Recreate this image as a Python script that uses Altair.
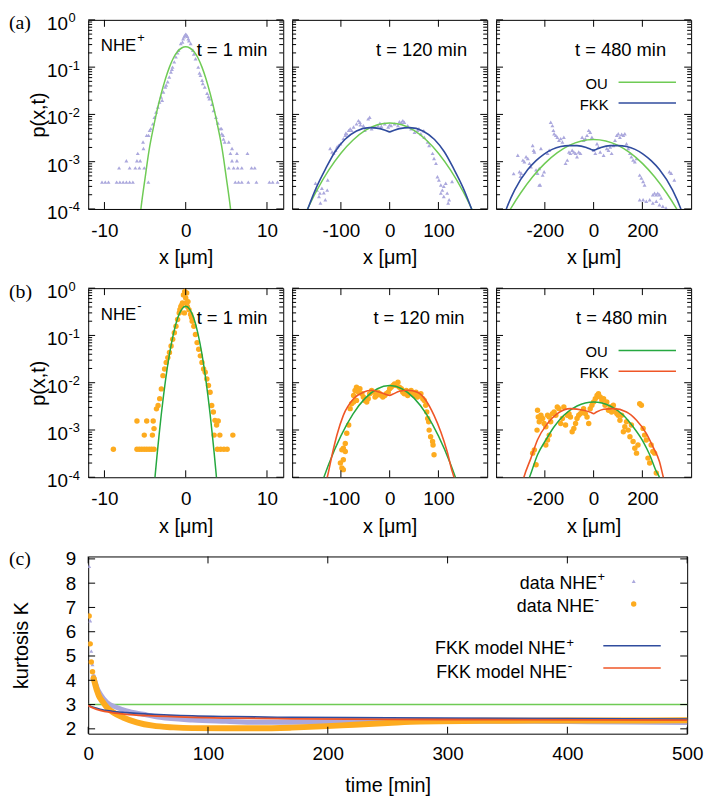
import altair as alt
import pandas as pd

FONT = "Liberation Sans"
SERIF = "Liberation Serif"

LAV = "#aba8dd"
ORG = "#fdab1f"
GRN_L = "#6fcb55"
GRN_D = "#25a840"
BLU = "#304c9e"
RED = "#ef5627"

W, H = 197, 191
WC, HC = 605, 179

# ---------------- ticks ----------------
Y_MAJOR = [1e-4, 1e-3, 1e-2, 1e-1, 1.0]
Y_MINOR = [m * 10.0 ** k for k in (-4, -3, -2, -1) for m in range(2, 10)]
Y_LAB_V = [1.0, 1e-1, 1e-2, 1e-3, 1e-4]
Y_LAB_E = ["0", "-1", "-2", "-3", "-4"]
XT_1 = [-10, 0, 10]
XT_120 = [-100, 0, 100]
XT_480 = [-200, 0, 200]
C_XT = [0, 100, 200, 300, 400, 500]
C_YT = [2, 3, 4, 5, 6, 7, 8, 9]

# ---------------- (a1) NHE+ , t = 1 min ----------------
A1_BODY_X = [-4.57, -4.44, -4.04, -3.84, -3.64, -3.43, -3.23, -3.03, -2.9, -2.75, -2.51, -2.4, -2.22, -2.02,
             -1.82, -1.7, -1.62, -1.41, -1.21, -1.0, -0.89, -0.61, -0.4, -0.32, -0.2, -0.1, 0.0, 0.1, 0.2,
             0.32, 0.4, 0.61, 0.89, 1.0, 1.21, 1.54, 1.7, 1.82, 2.02, 2.1, 2.34, 2.63, 2.8, 2.91, 3.23,
             3.43, 3.72, 3.96, 4.24, 4.44, 4.65]
A1_BODY_P = [3.6e-3, 4.6e-3, 6.3e-3, 8.7e-3, 1.12e-2, 1.44e-2, 1.82e-2, 2.34e-2, 2.0e-2, 2.97e-2, 3.8e-2,
             4.2e-2, 4.9e-2, 6.2e-2, 7.9e-2, 9.0e-2, 0.10, 0.129, 0.165, 0.20, 0.228, 0.315, 0.34, 0.40,
             0.44, 0.47, 0.50, 0.48, 0.45, 0.40, 0.36, 0.315, 0.228, 0.19, 0.151, 0.10, 0.075, 0.067,
             0.053, 0.045, 0.038, 0.028, 0.024, 0.0215, 0.0163, 0.0121, 0.0087, 0.0066, 0.0050, 3.9e-3,
             3.0e-3]
A1_TAIL_LEVELS = [3.7e-4, 7.4e-4, 1.05e-3, 1.5e-3, 1.9e-3, 2.6e-3, 3.6e-3, 5.0e-3]
A1_TAIL_ROWS = [
    [-10.3, -9.9, -9.5, -8.5, -8.1, -7.7, -7.3, -6.9, -6.5, -4.6, 6.1, 6.5, 6.9, 7.7, 8.7, 10.3, 10.7, 11.3],
    [-8.2, -6.9, -6.2, -5.7, -5.1, 5.3, 5.9, 6.4, 6.9, 8.1, 8.5],
    [-7.3, -6.0, -5.6, 5.7, 6.3],
    [-5.9, 5.5, 6.3, 7.6],
    [-5.2, 5.7],
    [-5.25, 4.8, 5.3],
    [-4.8, 4.6],
    [-4.3, 4.4],
]
A1_OU_X = [-5.8, -5.5, -5.0, -4.5, -4.0, -3.5, -3.0, -2.5, -2.0, -1.5, -1.0, -0.5, 0.0, 0.5, 1.0, 1.5, 2.0,
           2.5, 3.0, 3.5, 4.0, 4.5, 5.0, 5.5, 5.8]
A1_OU_P = [3.5e-5, 1.05e-4, 4.5e-4, 1.78e-3, 5.0e-3, 0.0126, 0.028, 0.056, 0.100, 0.158, 0.214, 0.254, 0.269,
           0.254, 0.214, 0.158, 0.100, 0.056, 0.028, 0.0126, 5.0e-3, 1.78e-3, 4.5e-4, 1.05e-4, 3.5e-5]

# ---------------- (a2) NHE+ , t = 120 min ----------------
A2_X = [-152, -149, -145, -142, -143, -139, -135, -128, -132, -127, -122, -118, -115, -111, -108, -105, -101,
        -95, -91, -88, -84, -81, -78, -74, -68, -64, -61, -54, -51, -44, -41, -37, -30, -24, -17, -10, -3, 3,
        10, 17, 24, 27, 30, 37, 44, 51, 57, 64, 71, 78, 81, 88, 91, 95, 98, 101, 105, 108, 111, 115, 118,
        122, 128, 105, 111, 120, -60, -20, 0, 20, 60, -90, 70]
A2_P = [3.5e-4, 2.5e-4, 1.84e-4, 1.34e-4, 2.16e-4, 2.75e-4, 2.2e-4, 2.5e-4, 1.57e-4, 4.1e-4, 1.9e-3, 1.6e-3,
        1.5e-3, 1.75e-3, 2.05e-3, 2.2e-3, 2.4e-3, 3.07e-3, 3.6e-3, 3.9e-3, 4.6e-3, 4.97e-3, 4.6e-3, 5.4e-3,
        6.3e-3, 7.4e-3, 6.85e-3, 5.8e-3, 4.6e-3, 8.05e-3, 8.7e-3, 4.97e-3, 5.4e-3, 5.8e-3, 5.6e-3, 6.3e-3,
        5.4e-3, 5.8e-3, 6.3e-3, 5.8e-3, 6.85e-3, 7.4e-3, 6.85e-3, 5.8e-3, 4.97e-3, 4.2e-3, 4.6e-3, 3.9e-3,
        3.3e-3, 2.6e-3, 2.2e-3, 1.5e-3, 1.17e-3, 9.2e-4, 4.8e-4, 4.1e-4, 3.2e-4, 2.5e-4, 3.0e-4, 3.5e-4,
        2.16e-4, 1.57e-4, 3.8e-4, 2.16e-4, 1.84e-4, 1.34e-4, 6.0e-3, 6.5e-3, 6.0e-3, 7.0e-3, 5.0e-3, 4.0e-3,
        4.5e-3]
A2_OU_X = [-175, -150, -125, -100, -75, -50, -25, 0, 25, 50, 75, 100, 125, 150, 175]
A2_OU_P = [7.2e-5, 2.4e-4, 6.6e-4, 1.51e-3, 2.88e-3, 4.57e-3, 6.03e-3, 6.6e-3, 6.03e-3, 4.57e-3, 2.88e-3,
           1.51e-3, 6.6e-4, 2.4e-4, 7.2e-5]
A2_FK_X = [-182, -168, -150, -131, -112, -92, -68, -41, -20, -8, 0, 8, 20, 41, 68, 92, 112, 131, 150, 168, 182]
A2_FK_P = [4.0e-5, 1.0e-4, 2.9e-4, 7.2e-4, 1.62e-3, 2.95e-3, 4.47e-3, 5.25e-3, 5.0e-3, 4.57e-3, 4.27e-3,
           4.57e-3, 5.0e-3, 5.25e-3, 4.47e-3, 2.95e-3, 1.62e-3, 7.2e-4, 2.9e-4, 1.0e-4, 4.0e-5]

# ---------------- (a3) NHE+ , t = 480 min ----------------
A3_X = [-311, -304, -297, -290, -284, -277, -270, -263, -257, -250, -246, -243, -236, -230, -223, -216, -209,
        -203, -223, -189, -182, -176, -169, -165, -162, -155, -149, -142, -135, -128, -122, -115, -108, -101,
        -95, -88, -81, -74, -68, -61, -54, -47, -41, -34, -27, -20, -14, -7, 0, 7, 14, 20, 27, 41, 54, 61, 68,
        74, 81, 88, 95, 101, 108, 115, 122, 128, 135, 142, 149, 155, 162, 169, 176, 189, 196, 203, 209, 243,
        250, 257, 263, 270, 277, 189, 203, 216, 230, 243, 257, 270, 284, 297, 311, 318, 331, -300, -328, -219]
A3_P = [1.37e-3, 6.15e-4, 5.7e-4, 1.08e-3, 1.0e-3, 1.27e-3, 1.17e-3, 9.2e-4, 7.8e-4, 2.2e-3, 1.75e-3, 1.6e-3,
        6.7e-4, 5.7e-4, 7.2e-4, 1.9e-3, 5.2e-4, 6.15e-4, 3.2e-4, 1.5e-3, 1.75e-3, 6.85e-3, 5.8e-3, 4.6e-3,
        3.9e-3, 3.6e-3, 3.3e-3, 2.83e-3, 3.07e-3, 2.6e-3, 3.3e-3, 9.2e-4, 1.08e-3, 1.6e-3, 1.5e-3, 1.75e-3,
        1.6e-3, 1.5e-3, 1.27e-3, 1.6e-3, 1.5e-3, 3.3e-3, 2.83e-3, 3.07e-3, 3.6e-3, 4.6e-3, 4.2e-3, 3.3e-3,
        1.75e-3, 1.5e-3, 2.4e-3, 2.05e-3, 1.6e-3, 1.37e-3, 1.9e-3, 1.75e-3, 2.05e-3, 1.5e-3, 2.2e-3, 2.83e-3,
        3.6e-3, 3.9e-3, 3.3e-3, 3.8e-3, 3.6e-3, 3.9e-3, 2.4e-3, 1.9e-3, 1.5e-3, 1.27e-3, 1.08e-3, 1.0e-3,
        1.17e-3, 5.2e-4, 4.5e-4, 3.8e-4, 3.2e-4, 2.0e-4, 2.16e-4, 2.0e-4, 2.16e-4, 2.0e-4, 1.7e-4, 1.57e-4,
        1.57e-4, 1.45e-4, 1.57e-4, 1.34e-4, 1.45e-4, 1.23e-4, 1.14e-4, 1.05e-4, 6.15e-4, 5.7e-4, 4.1e-4,
        4.9e-4, 5.6e-4, 3.2e-4]
A3_OU_X = [-370, -340, -300, -250, -200, -150, -100, -50, 0, 50, 100, 150, 200, 250, 300, 340, 370]
A3_OU_P = [5.5e-5, 1.02e-4, 2.15e-4, 4.8e-4, 9.2e-4, 1.53e-3, 2.21e-3, 2.74e-3, 2.95e-3, 2.74e-3, 2.21e-3,
           1.53e-3, 9.2e-4, 4.8e-4, 2.15e-4, 1.02e-4, 5.5e-5]
A3_FK_X = [-380, -358, -324, -270, -236, -203, -170, -135, -100, -68, -30, -10, 0, 10, 30, 68, 100, 135, 170,
           203, 236, 270, 324, 358, 380]
A3_FK_P = [4.5e-5, 1.0e-4, 2.5e-4, 6.8e-4, 1.05e-3, 1.45e-3, 1.82e-3, 2.09e-3, 2.19e-3, 2.19e-3, 2.0e-3,
           1.82e-3, 1.75e-3, 1.82e-3, 2.0e-3, 2.19e-3, 2.19e-3, 2.09e-3, 1.82e-3, 1.45e-3, 1.05e-3, 6.8e-4,
           2.5e-4, 1.0e-4, 4.5e-5]

# ---------------- (b1) NHE- , t = 1 min ----------------
B1_BODY_X = [-0.12, 0.0, -0.4, 0.2, -0.6, 0.4, -0.8, 0.6, -1.0, 0.8, -1.2, 1.0, -1.4, 1.2, -1.6, 1.4, -1.8, 1.6,
             -2.0, 1.8, -2.2, 2.0, -2.4, 2.2, -2.6, 2.4, -2.8, 2.6, -3.0, 2.8, -3.2, 3.0, -3.4, 3.2, -3.6, 3.4,
             3.6, 3.8, -0.48, 0.08, -0.16, -0.28, 0.12, 0.28, -0.72, 0.72]
B1_BODY_P = [0.85, 0.62, 0.485, 0.41, 0.41, 0.35, 0.30, 0.277, 0.217, 0.2, 0.157, 0.157, 0.114, 0.105, 0.083,
             0.0705, 0.06, 0.051, 0.0435, 0.037, 0.034, 0.0269, 0.0269, 0.0195, 0.0195, 0.0166, 0.0141, 0.012,
             7.4e-3, 8.7e-3, 4.6e-3, 6.3e-3, 3.3e-3, 3.3e-3, 2.8e-3, 2.4e-3, 1.6e-3, 1.27e-3, 0.44, 0.485,
             0.30, 0.72, 0.79, 0.52, 0.35, 0.24]
B1_TAIL_LEVELS = [3.9e-4, 7.8e-4, 1.07e-3, 1.55e-3]
B1_TAIL_ROWS = [
    [-8.9, -6.0, -5.7, -5.4, -5.1, -4.8, -4.5, -4.2, -3.9, 3.9, 4.3, 4.7, 5.1],
    [-5.1, -4.1, 3.5, 4.2, 5.8],
    [-3.9],
    [-6.0, -4.8, -4.0, 4.0],
]
B1_OU_X = [-4.0, -3.75, -3.5, -3.25, -3.0, -2.75, -2.5, -2.0, -1.5, -1.0, -0.5, 0.0, 0.5, 1.0, 1.5, 2.0, 2.5,
           2.75, 3.0, 3.25, 3.5, 3.75, 4.0]
B1_OU_P = [3.7e-5, 1.15e-4, 3.29e-4, 8.7e-4, 2.18e-3, 5.0e-3, 0.0108, 0.0402, 0.111, 0.231, 0.357, 0.413,
           0.357, 0.231, 0.111, 0.0402, 0.0108, 5.0e-3, 2.18e-3, 8.7e-4, 3.29e-4, 1.15e-4, 3.7e-5]

# ---------------- (b2) NHE- , t = 120 min ----------------
B2_X = [-74, -71, -68, -64, -61, -57, -54, -51, -47, -44, -41, -37, -34, -30, -27, -24, -20, -17, -14, -10, -7,
        -3, 0, 3, 7, 10, 14, 17, 20, 24, 27, 30, 34, 37, 41, 44, 47, 51, 54, 57, 61, 64, 68, 71, 74, 76, -74,
        -68, -78, -81, -84, -88, -91, -95, -98, -91, -101, -95, -98, -95, 81, 84, 88, 89, 91, 78, 80]
B2_P = [5.38e-3, 6.85e-3, 8.05e-3, 6.32e-3, 7.43e-3, 5.83e-3, 4.97e-3, 4.23e-3, 3.9e-3, 4.58e-3, 5.83e-3,
        6.85e-3, 6.32e-3, 4.97e-3, 5.38e-3, 6.32e-3, 5.83e-3, 5.38e-3, 4.97e-3, 5.38e-3, 5.83e-3, 6.32e-3,
        7.43e-3, 8.05e-3, 8.73e-3, 9.46e-3, 8.73e-3, 1.02e-2, 8.05e-3, 7.43e-3, 6.32e-3, 5.83e-3, 6.85e-3,
        5.38e-3, 6.32e-3, 6.85e-3, 5.83e-3, 5.38e-3, 6.32e-3, 4.97e-3, 5.38e-3, 5.83e-3, 4.58e-3, 4.23e-3,
        3.33e-3, 2.41e-3, 3.9e-3, 4.23e-3, 3.6e-3, 2.83e-3, 1.27e-3, 8.5e-4, 5.2e-4, 4.1e-4, 3.8e-4, 3.5e-4,
        2.0e-4, 2.34e-4, 1.57e-4, 1.45e-4, 9.95e-4, 7.2e-4, 5.7e-4, 4.8e-4, 3.0e-4, 1.75e-3, 1.49e-3]
B2_OU_X = [-140, -125, -100, -75, -50, -25, 0, 25, 50, 75, 100, 125, 140]
B2_OU_P = [7.1e-5, 1.89e-4, 7.5e-4, 2.19e-3, 4.72e-3, 7.46e-3, 8.7e-3, 7.46e-3, 4.72e-3, 2.19e-3, 7.5e-4,
           1.89e-4, 7.1e-5]
B2_FK_X = [-142, -128, -118, -108, -95, -74, -54, -37, -20, -7, 0, 7, 20, 37, 57, 74, 91, 105, 118, 128, 132, 142]
B2_FK_P = [4e-5, 1e-4, 3.0e-4, 7.9e-4, 2.04e-3, 4.57e-3, 6.3e-3, 6.9e-3, 6.3e-3, 5.6e-3, 5.4e-3, 5.75e-3,
           6.6e-3, 6.9e-3, 6.3e-3, 4.27e-3, 2.04e-3, 9.1e-4, 3.47e-4, 1.35e-4, 1e-4, 4e-5]

# ---------------- (b3) NHE- , t = 480 min ----------------
B3_X = [-243, -250, -236, -232, -230, -227, -223, -216, -209, -203, -196, -189, -182, -176, -169, -162, -155,
        -149, -142, -135, -128, -122, -115, -108, -101, -95, -88, -81, -74, -68, -61, -54, -47, -41, -34, -27,
        -20, -14, -7, 0, 7, 14, 20, 27, 34, 41, 47, 54, 61, 68, 74, 81, 88, 95, 101, 108, 115, 122, 128, 135,
        142, 149, 155, 162, 169, 176, 182, 189, 196, 203, 209, 216, 223, 230, 236, 243, 250, 257, -189, -196,
        -182]
B3_P = [3.8e-4, 3.24e-4, 1.84e-4, 9.95e-4, 2.61e-3, 1.89e-3, 1.49e-3, 2.05e-3, 1.75e-3, 1.37e-3, 1.17e-3,
        2.05e-3, 1.89e-3, 1.49e-3, 2.22e-3, 2.41e-3, 2.05e-3, 3.07e-3, 2.83e-3, 1.37e-3, 1.75e-3, 3.07e-3,
        1.27e-3, 2.05e-3, 2.22e-3, 1.89e-3, 9.2e-4, 1.08e-3, 1.37e-3, 1.75e-3, 2.05e-3, 2.22e-3, 2.41e-3,
        2.83e-3, 2.22e-3, 1.89e-3, 1.37e-3, 2.83e-3, 3.33e-3, 3.9e-3, 4.58e-3, 5.38e-3, 5.83e-3, 4.97e-3,
        4.23e-3, 4.58e-3, 3.33e-3, 3.9e-3, 2.61e-3, 3.07e-3, 2.41e-3, 3.33e-3, 2.61e-3, 2.22e-3, 2.05e-3,
        1.61e-3, 2.05e-3, 9.2e-4, 1.17e-3, 1.49e-3, 9.95e-4, 7.2e-4, 1.27e-3, 5.7e-4, 4.1e-4, 3.24e-4, 4.8e-4,
        3.6e-3, 3.33e-3, 1.08e-3, 7.8e-4, 6.15e-4, 2.54e-4, 2.0e-4, 4.8e-4, 3.5e-4, 3.24e-4, 1.23e-4, 6.15e-4,
        4.8e-4, 7.8e-4]
B3_OU_X = [-290, -263, -230, -196, -162, -122, -68, 0, 68, 122, 162, 203, 230, 257, 270, 290]
B3_OU_P = [5e-5, 1e-4, 3.0e-4, 6.15e-4, 1.17e-3, 2.05e-3, 3.22e-3, 3.9e-3, 3.22e-3, 2.05e-3, 1.17e-3, 5.7e-4,
           3.0e-4, 1.34e-4, 1e-4, 4.5e-5]
B3_FK_X = [-305, -286, -257, -230, -189, -149, -95, -41, -10, 0, 10, 41, 81, 135, 176, 216, 243, 270, 286, 305]
B3_FK_P = [4e-5, 1e-4, 2.54e-4, 6.2e-4, 1.37e-3, 2.22e-3, 2.83e-3, 2.61e-3, 2.34e-3, 2.22e-3, 2.37e-3, 2.74e-3,
           2.83e-3, 2.41e-3, 1.61e-3, 8.5e-4, 4.46e-4, 2.16e-4, 1e-4, 4e-5]

# ---------------- (c) kurtosis ----------------
C_PLUS_EARLY_T = [0.8, 1.7, 2.6, 3.6]
C_PLUS_EARLY_K = [8.7, 6.45, 5.2, 4.65]
C_MINUS_EARLY_T = [0.8, 1.7, 2.6, 3.6, 4.5]
C_MINUS_EARLY_K = [6.65, 5.5, 4.75, 4.35, 4.08]
C_PLUS_T = [4.5, 6, 7.4, 10.2, 15.7, 24, 32, 46, 60, 87, 115, 142, 170, 200, 250, 300, 350, 400, 450, 500]
C_PLUS_K = [4.15, 3.9, 3.69, 3.42, 3.08, 2.88, 2.74, 2.6, 2.47, 2.36, 2.31, 2.27, 2.27, 2.28, 2.3, 2.31, 2.31,
            2.3, 2.28, 2.26]
C_MINUS_T = [4.5, 6, 7.4, 9, 11.6, 15.7, 21, 29, 40.5, 54, 71, 87, 115, 142, 170, 195, 222, 250, 277, 332, 400,
             450, 500]
C_MINUS_K = [4.08, 3.8, 3.56, 3.35, 3.15, 2.88, 2.67, 2.47, 2.27, 2.13, 2.06, 2.03, 2.02, 2.02, 2.05, 2.1, 2.17,
             2.24, 2.3, 2.33, 2.34, 2.34, 2.35]
C_FK_T = [0, 5, 10, 20, 32, 50, 87, 120, 170, 250, 350, 500]
C_FK_PLUS_K = [2.97, 2.87, 2.80, 2.72, 2.67, 2.61, 2.53, 2.5, 2.47, 2.45, 2.43, 2.40]
C_FK_MINUS_K = [2.96, 2.84, 2.76, 2.67, 2.60, 2.54, 2.47, 2.44, 2.41, 2.39, 2.38, 2.36]
C_OU_T = [0, 500]
C_OU_K = [3, 3]


# ---------------- helpers ----------------
def label(text, x, y, size=19, align="left", font=FONT):
    return alt.Chart(pd.DataFrame({"s": [text]})).mark_text(
        align=align, baseline="middle", font=font, fontSize=size, color="black"
    ).encode(x=alt.value(x), y=alt.value(y), text="s:N")


def hrule(x0, x1, y, color, width=1.5):
    return alt.Chart(pd.DataFrame({"d": [0]})).mark_rule(color=color, strokeWidth=width).encode(
        x=alt.value(x0), x2=alt.value(x1), y=alt.value(y))


def symbol(x, y, shape, size, color):
    return alt.Chart(pd.DataFrame({"d": [0]})).mark_point(
        shape=shape, filled=True, size=size, color=color, opacity=1, strokeWidth=0
    ).encode(x=alt.value(x), y=alt.value(y))


def x_axis(vals, title, pad, tpad):
    return alt.Axis(values=vals, ticks=False, tickSize=0, domain=False, grid=False,
                    labelFont=FONT, labelFontSize=19, labelColor="black", labelPadding=pad,
                    labelExpr="'' + datum.value", labelFlush=False, labelOverlap=False,
                    title=title, titleFont=FONT, titleFontSize=20, titleFontWeight="normal",
                    titleColor="black", titlePadding=tpad)


def expand(levels, rows):
    xs, ps = [], []
    for lv, row in zip(levels, rows):
        for v in row:
            xs.append(v)
            ps.append(lv)
    return xs, ps


def dist_panel(xdom, xticks, px, pp, pcol, pshape, psize, oux, oup, oucol, fkx, fkp, fkcol,
               tlab, tlab_x, first=False, tag=None, sign=None, legend=False):
    xs = alt.Scale(domain=xdom, nice=False, zero=False)
    ys = alt.Scale(type="log", domain=[1e-4, 1], nice=False)
    xa = x_axis(xticks, "x [μm]", 12.5, 8)
    if first:
        ya = alt.Axis(labels=False, ticks=False, tickSize=0, domain=False, grid=False,
                      title="p(x,t)", titleFont=FONT, titleFontSize=20, titleFontWeight="normal",
                      titleColor="black", titlePadding=40)
    else:
        ya = None

    def X(f):
        return alt.X(f, type="quantitative", scale=xs, axis=xa)

    def Y(f):
        return alt.Y(f, type="quantitative", scale=ys, axis=ya)

    layers = [
        alt.Chart(pd.DataFrame({"x": px, "p": pp})).mark_point(
            shape=pshape, filled=True, size=psize, color=pcol, opacity=1, strokeWidth=0, clip=True
        ).encode(x=X("x"), y=Y("p")),
        alt.Chart(pd.DataFrame({"x": oux, "p": oup})).mark_line(
            color=oucol, strokeWidth=1.5, interpolate="monotone", clip=True
        ).encode(x=X("x"), y=Y("p")),
    ]
    if fkx is not None:
        layers.append(alt.Chart(pd.DataFrame({"x": fkx, "p": fkp})).mark_line(
            color=fkcol, strokeWidth=1.6, interpolate="monotone", clip=True
        ).encode(x=X("x"), y=Y("p")))
    for vals, ln in ((Y_MAJOR, 7), (Y_MINOR, 4)):
        df = pd.DataFrame({"p": vals})
        layers.append(alt.Chart(df).mark_rule(color="black", strokeWidth=1).encode(
            y=Y("p"), x=alt.value(0), x2=alt.value(ln)))
        layers.append(alt.Chart(df).mark_rule(color="black", strokeWidth=1).encode(
            y=Y("p"), x=alt.value(W), x2=alt.value(W - ln)))
    xt = pd.DataFrame({"x": xticks})
    layers.append(alt.Chart(xt).mark_rule(color="black", strokeWidth=1).encode(
        x=X("x"), y=alt.value(H), y2=alt.value(H - 7)))
    layers.append(alt.Chart(xt).mark_rule(color="black", strokeWidth=1).encode(
        x=X("x"), y=alt.value(0), y2=alt.value(7)))
    layers.append(label(tlab, tlab_x, 30, size=18.5, align="right"))
    if first:
        yl = pd.DataFrame({"v": Y_LAB_V, "e": Y_LAB_E})
        layers.append(alt.Chart(yl).mark_text(align="right", baseline="middle", font=FONT, fontSize=19,
                                              color="black", dy=4).encode(
            y=Y("v"), x=alt.value(-20.5), text=alt.value("10")))
        layers.append(alt.Chart(yl).mark_text(align="left", baseline="middle", font=FONT, fontSize=13,
                                              color="black", dy=-1.5).encode(
            y=Y("v"), x=alt.value(-20), text="e:N"))
        layers.append(label(tag, -80, 3.5, size=20, font=SERIF))
        layers.append(label("NHE", 12.7, 26.7, size=17))
        layers.append(label(sign, 49.5, 18.5, size=13))
    if legend:
        layers.append(label("OU", 112.7, 65, size=15, align="right"))
        layers.append(hrule(123.7, 181.7, 63, oucol))
        layers.append(label("FKK", 113.7, 86, size=15, align="right"))
        layers.append(hrule(123.7, 181.7, 84, fkcol))
    return alt.layer(*layers).properties(width=W, height=H)


# ---------------- rows (a) and (b) ----------------
a1x, a1p = expand(A1_TAIL_LEVELS, A1_TAIL_ROWS)
b1x, b1p = expand(B1_TAIL_LEVELS, B1_TAIL_ROWS)

TRI, TRI_S = "triangle-up", 16
DOT, DOT_S = "circle", 30

a1 = dist_panel([-12, 12], XT_1, A1_BODY_X + a1x, A1_BODY_P + a1p, LAV, TRI, TRI_S, A1_OU_X, A1_OU_P, GRN_L,
                None, None, None, "t = 1 min", 181, first=True, tag="(a)", sign="+")
a2 = dist_panel([-200, 200], XT_120, A2_X, A2_P, LAV, TRI, TRI_S, A2_OU_X, A2_OU_P, GRN_L,
                A2_FK_X, A2_FK_P, BLU, "t = 120 min", 176.7)
a3 = dist_panel([-400, 400], XT_480, A3_X, A3_P, LAV, TRI, TRI_S, A3_OU_X, A3_OU_P, GRN_L,
                A3_FK_X, A3_FK_P, BLU, "t = 480 min", 171.7, legend=True)
b1 = dist_panel([-12, 12], XT_1, B1_BODY_X + b1x, B1_BODY_P + b1p, ORG, DOT, DOT_S, B1_OU_X, B1_OU_P, GRN_D,
                None, None, None, "t = 1 min", 181, first=True, tag="(b)", sign="-")
b2 = dist_panel([-200, 200], XT_120, B2_X, B2_P, ORG, DOT, DOT_S, B2_OU_X, B2_OU_P, GRN_D,
                B2_FK_X, B2_FK_P, RED, "t = 120 min", 174)
b3 = dist_panel([-400, 400], XT_480, B3_X, B3_P, ORG, DOT, DOT_S, B3_OU_X, B3_OU_P, GRN_D,
                B3_FK_X, B3_FK_P, RED, "t = 480 min", 172.7, legend=True)

# ---------------- row (c) ----------------
cxs = alt.Scale(domain=[0, 500], nice=False, zero=False)
cys = alt.Scale(domain=[1.8, 9.1], nice=False, zero=False)
cxa = x_axis(C_XT, "time [min]", 11, 12)
cya = alt.Axis(values=C_YT, ticks=False, tickSize=0, domain=False, grid=False,
               labelFont=FONT, labelFontSize=19, labelColor="black", labelPadding=12.5,
               labelFlush=False, labelOverlap=False,
               title="kurtosis K", titleFont=FONT, titleFontSize=20, titleFontWeight="normal",
               titleColor="black", titlePadding=34)


def CX(f):
    return alt.X(f, type="quantitative", scale=cxs, axis=cxa)


def CY(f):
    return alt.Y(f, type="quantitative", scale=cys, axis=cya)


def cline(t, k, color, width):
    return alt.Chart(pd.DataFrame({"t": t, "k": k})).mark_line(
        color=color, strokeWidth=width, interpolate="monotone", clip=True, strokeCap="round"
    ).encode(x=CX("t"), y=CY("k"))


def cpts(t, k, shape, size, color):
    return alt.Chart(pd.DataFrame({"t": t, "k": k})).mark_point(
        shape=shape, filled=True, size=size, color=color, opacity=1, strokeWidth=0, clip=True
    ).encode(x=CX("t"), y=CY("k"))


c_layers = [
    cline(C_OU_T, C_OU_K, GRN_L, 1.5),
    cline(C_PLUS_T, C_PLUS_K, LAV, 5),
    cpts(C_PLUS_EARLY_T, C_PLUS_EARLY_K, TRI, TRI_S, LAV),
    cline(C_MINUS_T, C_MINUS_K, ORG, 6),
    cpts(C_MINUS_EARLY_T, C_MINUS_EARLY_K, DOT, DOT_S, ORG),
    cline(C_FK_T, C_FK_PLUS_K, BLU, 1.8),
    cline(C_FK_T, C_FK_MINUS_K, RED, 1.8),
]
cyt = pd.DataFrame({"k": C_YT})
cxt = pd.DataFrame({"t": C_XT})
c_layers += [
    alt.Chart(cyt).mark_rule(color="black", strokeWidth=1).encode(y=CY("k"), x=alt.value(0), x2=alt.value(7)),
    alt.Chart(cyt).mark_rule(color="black", strokeWidth=1).encode(y=CY("k"), x=alt.value(WC), x2=alt.value(WC - 7)),
    alt.Chart(cxt).mark_rule(color="black", strokeWidth=1).encode(x=CX("t"), y=alt.value(HC), y2=alt.value(HC - 7)),
    alt.Chart(cxt).mark_rule(color="black", strokeWidth=1).encode(x=CX("t"), y=alt.value(0), y2=alt.value(7)),
    label("(c)", -80, 2.5, size=20, font=SERIF),
    label("data NHE", 514, 27.5, size=18, align="right"),
    label("+", 514.5, 20.5, size=13),
    symbol(551, 25, TRI, TRI_S, LAV),
    label("data NHE", 511, 51, size=18, align="right"),
    label("-", 511.5, 45, size=14),
    symbol(551, 48, DOT, DOT_S, ORG),
    label("FKK model NHE", 482.3, 94, size=18, align="right"),
    label("+", 483, 87.5, size=13),
    hrule(520.3, 578.3, 90.3, BLU),
    label("FKK model NHE", 483.5, 117.5, size=18, align="right"),
    label("-", 484.5, 111.5, size=14),
    hrule(520.3, 578.3, 112.6, RED),
]
c = alt.layer(*c_layers).properties(width=WC, height=HC)

row_a = alt.hconcat(a1, a2, a3, spacing=7)
row_b = alt.hconcat(b1, b2, b3, spacing=7)
chart = alt.vconcat(row_a, row_b, c, spacing=12).properties(
    padding=0, background="white"
).configure_view(stroke="black", strokeWidth=1)

chart.save("out.html", embed_options={"renderer": "svg", "actions": False})
